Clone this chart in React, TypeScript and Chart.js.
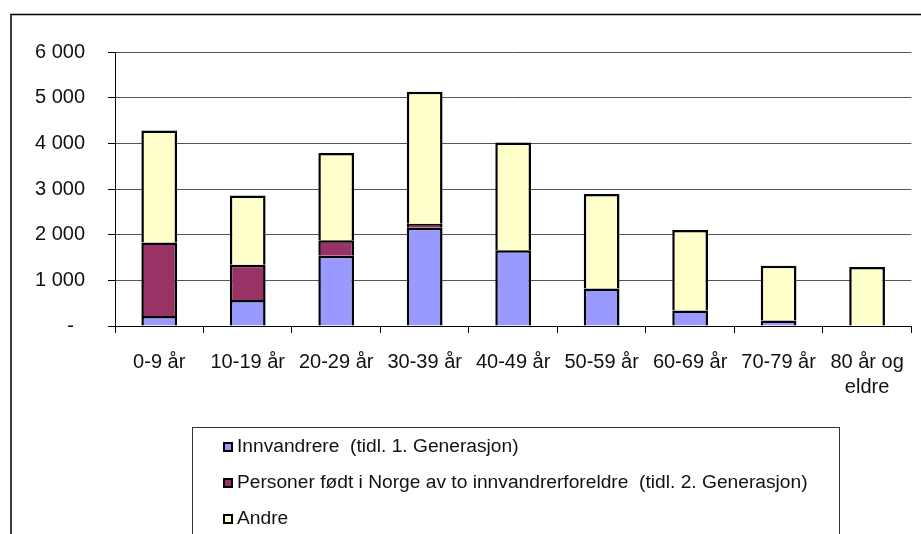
import React, { useEffect, useRef } from 'react';
import { Chart, registerables } from 'chart.js';

Chart.register(...registerables);

const categories: (string | string[])[] = [
  '0-9 år', '10-19 år', '20-29 år', '30-39 år', '40-49 år',
  '50-59 år', '60-69 år', '70-79 år', ['80 år og', 'eldre'],
];
const innvandrere = [220, 570, 1540, 2150, 1660, 820, 340, 120, 0];
const norskfodte = [1610, 770, 340, 90, 0, 0, 0, 0, 0];
const andre = [2450, 1520, 1910, 2890, 2360, 2070, 1760, 1200, 1290];
const seriesNames = [
  'Innvandrere  (tidl. 1. Generasjon)',
  'Personer født i Norge av to innvandrerforeldre  (tidl. 2. Generasjon)',
  'Andre',
];
const seriesColors = ['#9999FF', '#993366', '#FFFFCC'];
const yMin = 0;
const yMax = 6000;
const yStep = 1000;

const FONT = '"Liberation Sans", Arial, sans-serif';

function fmt(v: number): string {
  if (v === 0) return '-  ';
  const th = Math.floor(v / 1000);
  const rest = String(v % 1000).padStart(3, '0');
  return th > 0 ? `${th} ${rest}` : String(v);
}

const framePlugin = {
  id: 'frameLegend',
  beforeDraw(chart: any) {
    const ctx = chart.ctx;
    ctx.save();
    ctx.fillStyle = '#fff';
    ctx.fillRect(0, 0, chart.width, chart.height);
    ctx.restore();
  },
  afterDraw(chart: any) {
    const ctx = chart.ctx;
    ctx.save();
    // outer frame
    ctx.strokeStyle = '#000';
    ctx.lineWidth = 1.5;
    ctx.beginPath();
    ctx.moveTo(11, 700);
    ctx.lineTo(11, 14.5);
    ctx.lineTo(1000, 14.5);
    ctx.stroke();
    // legend box
    ctx.strokeStyle = '#333';
    ctx.lineWidth = 1;
    ctx.strokeRect(192.5, 427.5, 647, 200);
    ctx.font = `19.2px ${FONT}`;
    ctx.textBaseline = 'middle';
    ctx.textAlign = 'left';
    chart.data.datasets.forEach((ds: any, i: number) => {
      const y = 446.5 + i * 36.2;
      ctx.fillStyle = ds.backgroundColor;
      ctx.fillRect(223, Math.round(y) - 5, 10, 10);
      ctx.strokeStyle = '#000';
      ctx.lineWidth = 2;
      ctx.strokeRect(224, Math.round(y) - 4, 8, 8);
      ctx.fillStyle = '#111';
      ctx.fillText(ds.label, 237, y);
    });
    ctx.restore();
  },
};

export default function App() {
  const ref = useRef<HTMLCanvasElement>(null);

  useEffect(() => {
    if (!ref.current) return;
    const values = [innvandrere, norskfodte, andre];
    const chart = new Chart(ref.current, {
      type: 'bar',
      data: {
        labels: categories as any,
        datasets: values.map((arr, i) => ({
          label: seriesNames[i],
          data: arr,
          backgroundColor: seriesColors[i],
          borderColor: '#000',
          borderWidth: 2.5,
          borderSkipped: 'start',
          barPercentage: 0.404,
          categoryPercentage: 1,
        })),
      },
      options: {
        animation: false,
        responsive: false,
        devicePixelRatio: 1,
        layout: { padding: { left: 0, top: 52, right: 4, bottom: 0 } },
        plugins: {
          legend: { display: false },
          tooltip: { enabled: false },
          title: { display: false },
        },
        scales: {
          x: {
            stacked: true,
            grid: {
              display: true,
              drawOnChartArea: false,
              drawTicks: true,
              tickLength: 7,
              tickColor: '#000',
              color: '#000',
              offset: true,
            },
            border: { display: true, color: '#000', width: 1 },
            ticks: {
              color: '#111',
              font: { family: FONT, size: 20, lineHeight: 1.25 },
              padding: 17,
              maxRotation: 0,
              minRotation: 0,
              autoSkip: false,
            },
            afterFit: (s: any) => { s.height = 208; },
          },
          y: {
            stacked: true,
            min: yMin,
            max: yMax,
            ticks: {
              stepSize: yStep,
              callback: (v: any) => fmt(Number(v)),
              padding: 23,
              color: '#111',
              font: { family: FONT, size: 20 },
            },
            grid: { color: '#555', tickLength: 7, tickColor: '#000' },
            border: { display: true, color: '#000', width: 1 },
            afterFit: (s: any) => { s.width = 115; },
          },
        },
      },
      plugins: [framePlugin],
    });
    return () => chart.destroy();
  }, []);

  return (
    <div style={{ position: 'absolute', left: 0, top: 0, width: 921, height: 534, background: '#fff' }}>
      <canvas ref={ref} width={921} height={534} style={{ display: 'block', width: 921, height: 534 }} />
    </div>
  );
}
